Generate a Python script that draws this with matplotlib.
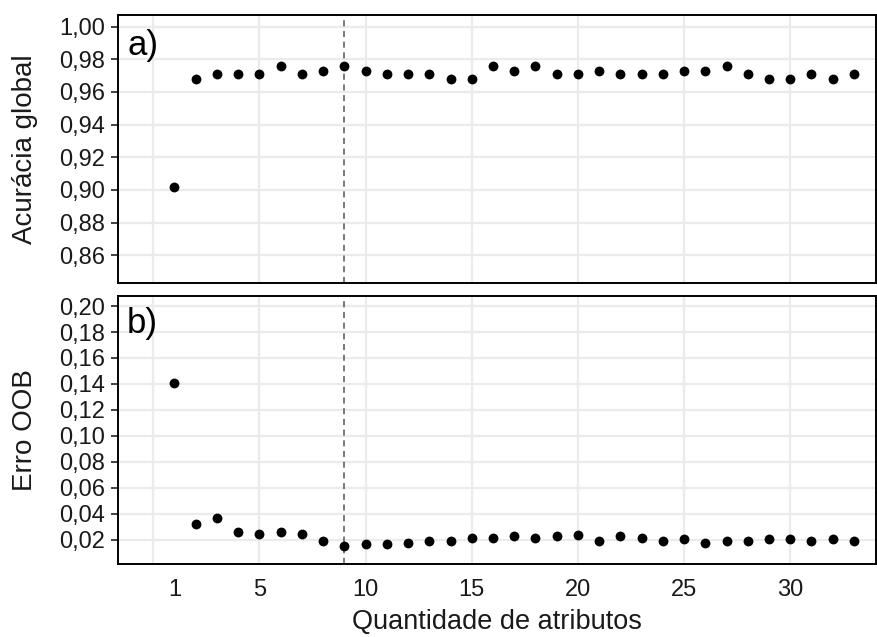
import matplotlib
matplotlib.use("Agg")
import matplotlib.pyplot as plt

plt.rcParams['font.family'] = ['Liberation Sans', 'DejaVu Sans']

# dados
atributos = list(range(1, 34))
acuracia = [0.902, 0.968, 0.971, 0.971, 0.971, 0.976, 0.971, 0.973, 0.976, 0.973,
            0.971, 0.971, 0.971, 0.968, 0.968, 0.976, 0.973, 0.976, 0.971, 0.971,
            0.973, 0.971, 0.971, 0.971, 0.973, 0.973, 0.976, 0.971, 0.968, 0.968,
            0.971, 0.968, 0.971]
erro_oob = [0.141, 0.0325, 0.0372, 0.0259, 0.0246, 0.0259, 0.0246, 0.0192, 0.0156, 0.0167,
            0.0167, 0.0179, 0.0192, 0.0192, 0.0213, 0.0213, 0.0231, 0.0213, 0.0231, 0.0238,
            0.0192, 0.0231, 0.0213, 0.0192, 0.0205, 0.0179, 0.0192, 0.0192, 0.0205, 0.0205,
            0.0192, 0.0205, 0.0192]
melhor = 9
xgrade = [0, 5, 10, 15, 20, 25, 30]
xticks = [1, 5, 10, 15, 20, 25, 30]
yticks_a = [0.86, 0.88, 0.90, 0.92, 0.94, 0.96, 0.98, 1.00]
yticks_b = [0.02, 0.04, 0.06, 0.08, 0.10, 0.12, 0.14, 0.16, 0.18, 0.20]

fig = plt.figure(figsize=(8.77, 6.37), dpi=100)
# painel a) de y=15 a 283 px, painel b) de y=296 a 564 px
ax1 = fig.add_axes([118/877, 1-283/637, 758/877, 268/637])
ax2 = fig.add_axes([118/877, 1-564/637, 758/877, 268/637])


def estilo(ax, yt, ylim, rotulo, letra, ybase):
    ax.set_xlim(-1.66, 34.04)
    ax.set_ylim(*ylim)
    for x in xgrade:
        ax.axvline(x, color='#ebebeb', lw=1.6, zorder=0)
    for y in yt:
        ax.axhline(y, color='#ebebeb', lw=1.6, zorder=0)
    ax.set_yticks(yt)
    ax.set_yticklabels([('%.2f' % v).replace('.', ',') for v in yt])
    ax.tick_params(axis='y', length=5, width=1.3, color='#333333', labelsize=17,
                   labelcolor='#1a1a1a', pad=4.5)
    ax.tick_params(axis='x', length=0, labelsize=17, labelcolor='#1a1a1a', pad=11)
    for s in ax.spines.values():
        s.set_linewidth(1.4)
        s.set_color('black')
    ax.set_ylabel(rotulo, fontsize=20, color='#1a1a1a')
    ax.yaxis.label.set_va('baseline')
    ax.yaxis.set_label_coords(-0.113, 0.5)
    ax.axvline(melhor, color='#555555', lw=1.1, ls=(0, (4, 3)), zorder=1)
    ax.text(0.012, ybase, letra, transform=ax.transAxes, fontsize=25,
            va='baseline', ha='left')


ax1.scatter(atributos, acuracia, s=50, color='black', zorder=3, linewidths=0)
estilo(ax1, yticks_a, (0.843, 1.0071), 'Acurácia global', 'a)', 0.851)
ax1.set_xticks(xticks)
ax1.set_xticklabels([])

ax2.scatter(atributos, erro_oob, s=50, color='black', zorder=3, linewidths=0)
estilo(ax2, yticks_b, (0.0015, 0.2077), 'Erro OOB', 'b)', 0.861)
ax2.set_xticks(xticks)
ax2.set_xticklabels([str(v) for v in xticks])
ax2.set_xlabel('Quantidade de atributos', fontsize=19.5, color='#1a1a1a')
ax2.xaxis.label.set_va('baseline')
ax2.xaxis.set_label_coords(0.5, -0.244)

fig.savefig('out.png', dpi=100)
